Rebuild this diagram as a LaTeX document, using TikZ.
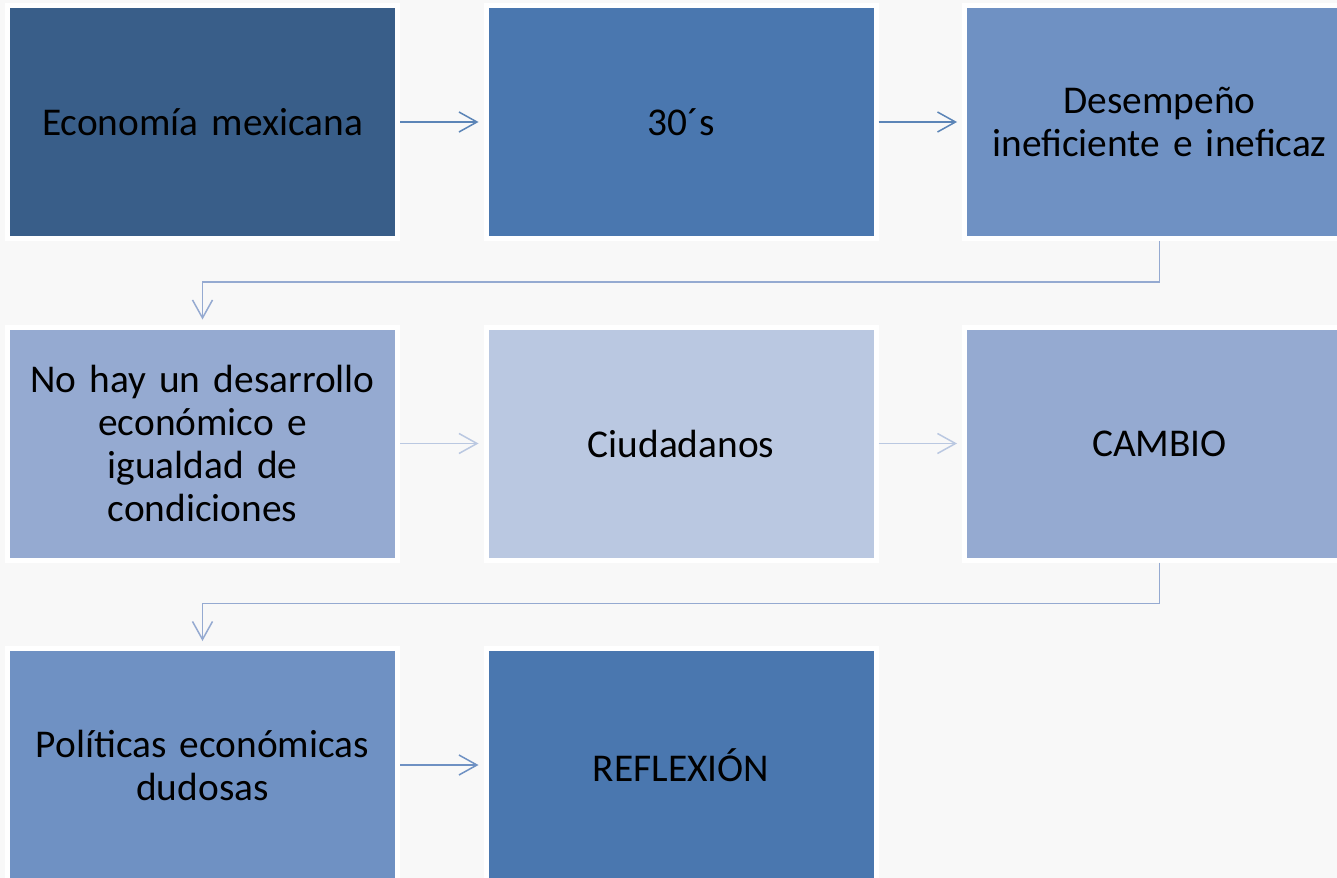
\documentclass[tikz,border=0pt]{standalone}
\usepackage{fontspec}
\setmainfont[WordSpace=0.75]{Carlito}
\usepackage{tikz}
\usetikzlibrary{positioning}
\usetikzlibrary{arrows.meta}
\usepackage{xcolor}

\definecolor{bgray}{HTML}{F8F8F8}
\definecolor{blueA}{HTML}{395E89}
\definecolor{blueB}{HTML}{4A77AF}
\definecolor{blueC}{HTML}{6F91C3}
\definecolor{blueD}{HTML}{95AAD1}
\definecolor{blueE}{HTML}{BAC8E1}

\tikzset{
	box/.style = {rectangle, draw = white, line width = 0.1cm, outer sep = 0pt,
		minimum width = 7.8cm, minimum height = 4.66cm, text width = 7.5cm,
		align = center, font = \fontsize{22.4}{24.5}\selectfont},
	flow/.style = {line width = 0.03cm, shorten < = 0.05cm, shorten > = 0.15cm,
		-{Straight Barb[length = 0.36cm, width = 0.4cm, line width = 0.03cm]}}
}

\begin{document}
\begin{tikzpicture}[node distance = 1.77cm]
		\fill[bgray] (0,0) rectangle (26.74,-17.56);
		\useasboundingbox (0,0) rectangle (26.74,-17.56);
		\node[box, fill = blueA] (eco) at (4.05,-2.44) {Economía mexicana};
		\node[box, fill = blueB, right = of eco] (treinta) {30´s};
		\node[box, fill = blueC, right = of treinta] (desemp) {Desempeño\\ineficiente e ineficaz};
		\node[box, fill = blueD, below = of eco] (nohay) {No hay un desarrollo\\económico e\\igualdad de\\condiciones};
		\node[box, fill = blueE, right = of nohay] (ciud) {Ciudadanos};
		\node[box, fill = blueD, right = of ciud] (cambio) {CAMBIO};
		\node[box, fill = blueC, below = of nohay] (polit) {Políticas económicas\\dudosas};
		\node[box, fill = blueB, right = of polit] (reflex) {REFLEXIÓN};
		\draw[flow, blueB!90!white] (eco) -- (treinta);
		\draw[flow, blueB!90!white] (treinta) -- (desemp);
		\draw[flow, blueD] (desemp.south) -- ++(0,-0.87) -| (nohay.north);
		\draw[flow, blueE] (nohay) -- (ciud);
		\draw[flow, blueE] (ciud) -- (cambio);
		\draw[flow, blueD] (cambio.south) -- ++(0,-0.87) -| (polit.north);
		\draw[flow, blueC] (polit) -- (reflex);
	\end{tikzpicture}
\end{document}
